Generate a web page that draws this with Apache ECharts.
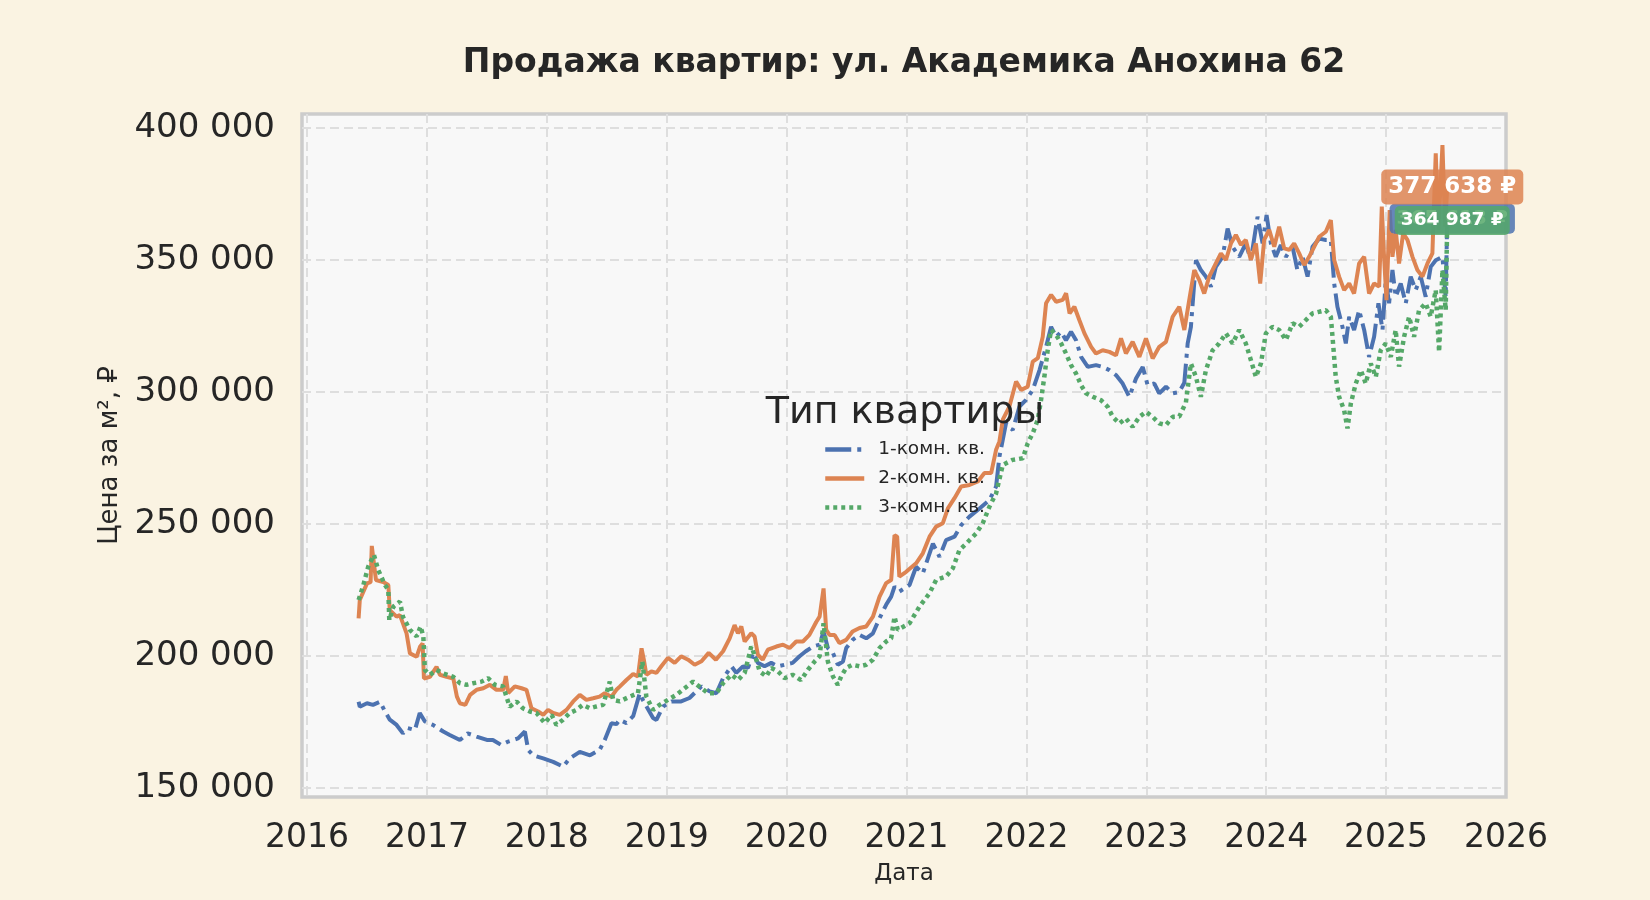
<!DOCTYPE html>
<html>
<head>
<meta charset="utf-8">
<script src="https://cdn.jsdelivr.net/npm/echarts@6/dist/echarts.min.js"></script>
<style>
html,body{margin:0;padding:0;background:#FAF3E2;}
#chart{width:1650px;height:900px;}
</style>
</head>
<body>
<div id="chart"></div>
<script>
// ---- data (decimal year, price per m²) ----
const oneRoom = [[2016.43,182700],[2016.44,180800],[2016.50,182100],[2016.55,181500],[2016.61,182700],[2016.65,179000],[2016.69,175900],[2016.747,173900],[2016.80,170700],[2016.84,172700],[2016.90,172000],[2016.94,178400],[2016.983,175200],[2017.05,173900],[2017.136,171400],[2017.19,170100],[2017.275,168200],[2017.34,170700],[2017.414,169500],[2017.50,168200],[2017.55,168200],[2017.62,166300],[2017.678,167600],[2017.76,168800],[2017.817,171400],[2017.845,164400],[2017.886,162400],[2017.97,161200],[2018.053,159900],[2018.136,158100],[2018.19,161200],[2018.275,163700],[2018.36,162400],[2018.44,164400],[2018.483,168200],[2018.539,174500],[2018.58,174200],[2018.608,175800],[2018.664,174600],[2018.72,177200],[2018.775,185900],[2018.80,183400],[2018.886,176500],[2018.914,175800],[2018.97,180900],[2019.04,182800],[2019.12,182800],[2019.19,184100],[2019.29,188500],[2019.358,186600],[2019.414,185900],[2019.47,191600],[2019.54,196100],[2019.58,193600],[2019.636,196100],[2019.678,195500],[2019.72,201200],[2019.76,197400],[2019.816,196100],[2019.872,197400],[2019.928,196100],[2019.983,196700],[2020.05,197400],[2020.108,199900],[2020.16,201800],[2020.22,203600],[2020.275,204300],[2020.308,209300],[2020.344,203000],[2020.386,201200],[2020.427,196700],[2020.47,197900],[2020.497,203000],[2020.55,206100],[2020.608,208000],[2020.664,206700],[2020.72,208600],[2020.775,214300],[2020.83,219400],[2020.872,222500],[2020.90,226300],[2020.94,224400],[2021.025,226900],[2021.08,233800],[2021.136,231300],[2021.22,242600],[2021.275,237600],[2021.33,243900],[2021.40,245200],[2021.456,249600],[2021.525,252800],[2021.609,255900],[2021.692,259100],[2021.747,264200],[2021.775,275500],[2021.83,288200],[2021.886,285600],[2021.942,294500],[2021.997,297000],[2022.053,300800],[2022.11,308400],[2022.164,317100],[2022.206,324700],[2022.248,320900],[2022.29,322800],[2022.33,319600],[2022.372,322800],[2022.414,319600],[2022.456,313300],[2022.512,309500],[2022.58,310200],[2022.636,309500],[2022.692,308300],[2022.747,306400],[2022.803,303200],[2022.858,298200],[2022.914,305100],[2022.97,309500],[2023.011,302600],[2023.067,303200],[2023.108,299500],[2023.164,302000],[2023.22,299500],[2023.275,300000],[2023.317,303500],[2023.345,318400],[2023.372,324700],[2023.414,349900],[2023.455,346200],[2023.497,343700],[2023.539,339900],[2023.58,347400],[2023.636,351200],[2023.678,361900],[2023.72,355000],[2023.775,351200],[2023.83,356300],[2023.872,350000],[2023.928,366400],[2023.97,356300],[2024.003,367000],[2024.039,356300],[2024.08,351200],[2024.122,355700],[2024.164,351200],[2024.22,355000],[2024.26,346200],[2024.303,351200],[2024.345,343700],[2024.386,355000],[2024.442,358100],[2024.497,357600],[2024.539,357600],[2024.567,341100],[2024.594,332300],[2024.636,324700],[2024.664,318400],[2024.692,328500],[2024.733,323500],[2024.775,331000],[2024.817,323500],[2024.858,313300],[2024.90,320900],[2024.936,333600],[2024.97,323500],[2024.997,342400],[2025.025,333600],[2025.053,346200],[2025.08,336100],[2025.122,341100],[2025.164,333600],[2025.205,343700],[2025.247,338600],[2025.289,343700],[2025.33,336100],[2025.372,347400],[2025.414,349900],[2025.47,351200],[2025.497,336100],[2025.51,365613]];

const twoRoom = [[2016.43,214300],[2016.44,221200],[2016.50,227500],[2016.53,228000],[2016.54,241700],[2016.575,228800],[2016.636,228000],[2016.678,226900],[2016.69,217400],[2016.747,214900],[2016.775,215500],[2016.83,208600],[2016.858,201000],[2016.914,199700],[2016.942,203500],[2016.964,204800],[2016.975,191500],[2017.025,192100],[2017.08,195900],[2017.108,192900],[2017.164,192100],[2017.22,191500],[2017.25,184600],[2017.275,182100],[2017.32,181500],[2017.36,185300],[2017.414,187200],[2017.47,187800],[2017.525,189100],[2017.58,187200],[2017.636,187200],[2017.658,192400],[2017.678,186000],[2017.733,188500],[2017.789,187800],[2017.83,187200],[2017.872,180200],[2017.928,179000],[2017.97,177700],[2018.01,179600],[2018.053,178400],[2018.108,177700],[2018.164,179600],[2018.22,182800],[2018.275,185300],[2018.33,183400],[2018.386,184000],[2018.44,184600],[2018.483,185900],[2018.539,184600],[2018.58,187200],[2018.608,188400],[2018.664,190900],[2018.72,193200],[2018.76,192200],[2018.79,202900],[2018.81,198400],[2018.83,192900],[2018.872,194200],[2018.914,193600],[2018.955,196100],[2019.01,199300],[2019.066,197400],[2019.12,199900],[2019.178,198600],[2019.233,196700],[2019.29,198000],[2019.35,201200],[2019.41,198600],[2019.47,201800],[2019.525,206700],[2019.566,211700],[2019.594,208600],[2019.622,211200],[2019.65,205500],[2019.705,208600],[2019.733,207400],[2019.76,200500],[2019.80,198600],[2019.844,202400],[2019.914,203600],[2019.97,204300],[2020.025,203000],[2020.08,205500],[2020.136,205500],[2020.19,208000],[2020.247,212900],[2020.275,214900],[2020.308,225600],[2020.33,209900],[2020.358,208000],[2020.40,208000],[2020.44,204900],[2020.497,206100],[2020.55,209300],[2020.608,210600],[2020.664,211200],[2020.72,214900],[2020.775,222500],[2020.83,227600],[2020.872,228800],[2020.90,245800],[2020.922,245200],[2020.94,230100],[2020.997,231900],[2021.08,235100],[2021.136,238900],[2021.192,245200],[2021.247,249000],[2021.303,250300],[2021.345,255900],[2021.40,259800],[2021.456,264200],[2021.525,264800],[2021.595,266100],[2021.65,269300],[2021.706,269300],[2021.747,278100],[2021.775,281300],[2021.803,289500],[2021.858,294500],[2021.914,304000],[2021.956,300800],[2022.011,302000],[2022.053,311500],[2022.095,312800],[2022.136,320900],[2022.164,333600],[2022.206,336800],[2022.248,334200],[2022.303,334900],[2022.331,337400],[2022.36,329800],[2022.40,332300],[2022.442,327200],[2022.484,322200],[2022.54,317100],[2022.58,314600],[2022.636,315800],[2022.692,315200],[2022.747,313900],[2022.789,320300],[2022.83,314600],[2022.886,319000],[2022.942,313300],[2022.997,320300],[2023.053,312700],[2023.108,317100],[2023.164,319000],[2023.22,328500],[2023.275,332300],[2023.317,323500],[2023.358,334800],[2023.40,346200],[2023.442,342400],[2023.483,337300],[2023.525,343700],[2023.58,348700],[2023.622,352500],[2023.664,350000],[2023.706,356300],[2023.747,359500],[2023.789,355700],[2023.83,357600],[2023.872,350000],[2023.914,356300],[2023.95,341100],[2023.983,357600],[2024.025,361400],[2024.067,355000],[2024.108,362600],[2024.15,354400],[2024.192,353800],[2024.233,356300],[2024.275,352500],[2024.317,348100],[2024.358,351200],[2024.40,355000],[2024.442,358800],[2024.497,360700],[2024.539,365100],[2024.567,350000],[2024.608,343700],[2024.65,338600],[2024.692,341100],[2024.733,337300],[2024.775,348700],[2024.817,351200],[2024.858,337300],[2024.90,341100],[2024.942,339900],[2024.964,370200],[2024.983,351200],[2025.003,334800],[2025.03,368900],[2025.053,351200],[2025.08,361400],[2025.108,348700],[2025.142,360100],[2025.178,357600],[2025.22,351200],[2025.261,346200],[2025.303,343700],[2025.345,348700],[2025.386,352500],[2025.414,390400],[2025.436,361400],[2025.47,393500],[2025.492,362600],[2025.51,377638]];

const threeRoom = [[2016.43,221200],[2016.47,226900],[2016.51,233800],[2016.558,238300],[2016.594,232600],[2016.65,226900],[2016.678,225000],[2016.686,213600],[2016.72,218700],[2016.775,220600],[2016.80,214900],[2016.858,209900],[2016.914,207400],[2016.947,211200],[2016.97,207400],[2016.983,194700],[2017.025,192900],[2017.08,194700],[2017.136,193400],[2017.22,192100],[2017.275,189700],[2017.33,189100],[2017.386,189700],[2017.455,190300],[2017.51,191600],[2017.567,189100],[2017.636,188500],[2017.69,180800],[2017.747,182800],[2017.80,180200],[2017.858,179000],[2017.914,178400],[2017.983,174600],[2018.04,177700],[2018.08,173900],[2018.136,175900],[2018.19,178400],[2018.247,179600],[2018.30,181500],[2018.36,180200],[2018.414,180900],[2018.47,181500],[2018.525,190300],[2018.553,183400],[2018.608,182800],[2018.69,184600],[2018.76,185900],[2018.797,197900],[2018.83,184600],[2018.886,179600],[2018.94,181500],[2019.01,183400],[2019.08,185300],[2019.15,187800],[2019.22,190300],[2019.29,187800],[2019.344,185900],[2019.414,185900],[2019.47,189700],[2019.54,192900],[2019.594,190900],[2019.65,193600],[2019.705,203600],[2019.747,198600],[2019.775,194200],[2019.83,192300],[2019.872,195500],[2019.928,194200],[2019.983,191600],[2020.05,192900],[2020.12,190900],[2020.178,194800],[2020.233,197900],[2020.275,199900],[2020.308,212400],[2020.344,197900],[2020.386,192300],[2020.427,189100],[2020.455,192300],[2020.497,195500],[2020.55,196700],[2020.608,196100],[2020.664,196700],[2020.72,198600],[2020.775,203000],[2020.83,205500],[2020.872,206700],[2020.90,214900],[2020.927,209900],[2021.025,212400],[2021.108,218700],[2021.192,223800],[2021.247,228800],[2021.33,230100],[2021.386,233200],[2021.442,240200],[2021.498,242600],[2021.58,246400],[2021.636,250300],[2021.692,256600],[2021.747,261600],[2021.803,272400],[2021.886,274300],[2021.97,274900],[2022.011,280600],[2022.053,284400],[2022.095,289500],[2022.122,297000],[2022.15,305900],[2022.178,316000],[2022.206,323500],[2022.248,321600],[2022.29,318400],[2022.33,314600],[2022.372,310200],[2022.414,307000],[2022.456,302600],[2022.497,299500],[2022.553,298200],[2022.622,296900],[2022.678,294400],[2022.72,290600],[2022.775,288100],[2022.83,290000],[2022.886,286800],[2022.942,290600],[2022.997,292500],[2023.053,290600],[2023.108,288100],[2023.164,287500],[2023.22,290600],[2023.275,290700],[2023.33,296000],[2023.372,310800],[2023.414,305700],[2023.455,298200],[2023.497,308300],[2023.553,315800],[2023.608,318400],[2023.664,322200],[2023.72,318400],[2023.775,323500],[2023.83,318400],[2023.872,312100],[2023.914,305700],[2023.956,310800],[2023.997,322200],[2024.053,324700],[2024.108,323500],[2024.164,319700],[2024.22,326000],[2024.275,324700],[2024.33,327200],[2024.386,329800],[2024.442,330400],[2024.497,331000],[2024.539,328500],[2024.553,320900],[2024.58,305700],[2024.608,298200],[2024.65,293100],[2024.678,286200],[2024.706,295700],[2024.747,303200],[2024.789,308300],[2024.83,303200],[2024.872,310800],[2024.914,305700],[2024.955,315800],[2024.997,318400],[2025.039,313300],[2025.08,323500],[2025.108,309600],[2025.15,320900],[2025.192,328500],[2025.233,320900],[2025.275,331000],[2025.33,333600],[2025.372,328500],[2025.414,338600],[2025.442,315200],[2025.47,346200],[2025.497,331000],[2025.51,364987]];

const seriesNames = ['1-комн. кв.', '2-комн. кв.', '3-комн. кв.'];
const seriesColors = ['#4C72B0', '#DD8452', '#55A868'];
const labelColors = ['rgba(76,114,176,0.85)', 'rgba(221,132,82,0.85)', 'rgba(85,168,104,0.85)'];
const titleText = 'Продажа квартир: ул. Академика Анохина 62';
const legendTitle = 'Тип квартиры';
const xName = 'Дата';
const yName = 'Цена за м², ₽';

const FONT = 'DejaVu Sans';
const TXT = '#262626';
const fmt = v => Math.round(v).toString().replace(/\B(?=(\d{3})+(?!\d))/g, ' ');

function endMark(data, idx, fontSize, pad, z) {
  const last = data[data.length - 1];
  return {
    silent: true,
    z: z,
    symbol: 'circle',
    symbolSize: 1,
    itemStyle: {color: 'rgba(0,0,0,0)'},
    label: {
      show: true,
      position: 'inside',
      offset: [5, 0],
      formatter: () => fmt(last[1]) + ' ₽',
      color: '#ffffff',
      fontFamily: FONT,
      fontWeight: 'bold',
      fontSize: fontSize,
      backgroundColor: labelColors[idx],
      borderRadius: 5,
      padding: pad
    },
    data: [{coord: [last[0], last[1]], value: last[1]}]
  };
}

const chart = echarts.init(document.getElementById('chart'), null, {renderer: 'canvas'});
chart.setOption({
  backgroundColor: '#FAF3E2',
  animation: false,
  textStyle: {fontFamily: FONT},
  title: [
    {text: titleText, left: 904, top: 47, textAlign: 'center', padding: 0,
     textStyle: {fontFamily: FONT, fontSize: 33, fontWeight: 'bold', color: TXT}},
    {text: legendTitle, left: 905, top: 394, textAlign: 'center', padding: 0,
     textStyle: {fontFamily: FONT, fontSize: 38, fontWeight: 'normal', color: TXT}}
  ],
  legend: {
    orient: 'vertical', left: 823, top: 440, padding: 0,
    itemWidth: 39, itemHeight: 18, itemGap: 10,
    data: seriesNames,
    itemStyle: {opacity: 0},
    lineStyle: {width: 4.5},
    textStyle: {fontFamily: FONT, fontSize: 18.5, color: TXT, padding: [0, 0, 0, 9]}
  },
  grid: {
    left: 302, right: 144, top: 114, bottom: 103,
    show: true, backgroundColor: '#F8F8F8', borderColor: '#CCCCCC', borderWidth: 3.5,
    outerBoundsMode: 'none'
  },
  xAxis: {
    type: 'value', min: 2015.958, max: 2026.0,
    minInterval: 1, maxInterval: 1, splitNumber: 10,
    name: xName, nameLocation: 'middle', nameGap: 66,
    nameTextStyle: {fontFamily: FONT, fontSize: 23, color: TXT},
    axisLine: {show: false}, axisTick: {show: false},
    axisLabel: {
      fontFamily: FONT, fontSize: 33, color: TXT, margin: 25,
      showMinLabel: true, showMaxLabel: true,
      formatter: v => Math.abs(v - Math.round(v)) < 1e-6 ? String(Math.round(v)) : ''
    },
    splitLine: {show: true, showMinLine: false, showMaxLine: false,
      lineStyle: {color: '#DEDEDE', width: 2, type: [9, 5]}}
  },
  yAxis: {
    type: 'value', min: 146600, max: 405300,
    minInterval: 50000, maxInterval: 50000, splitNumber: 5,
    name: yName, nameLocation: 'middle', nameGap: 174, nameRotate: 90,
    nameTextStyle: {fontFamily: FONT, fontSize: 26, color: TXT},
    axisLine: {show: false}, axisTick: {show: false},
    axisLabel: {
      fontFamily: FONT, fontSize: 34, color: TXT, margin: 27, padding: [9, 0, 0, 0],
      formatter: v => (Math.abs(v % 50000) < 1e-6) ? fmt(v) : ''
    },
    splitLine: {show: true, showMinLine: false, showMaxLine: false,
      lineStyle: {color: '#DEDEDE', width: 2, type: [9, 5]}}
  },
  series: [
    {
      name: seriesNames[0], type: 'line', data: oneRoom, symbol: 'none', z: 2,
      lineStyle: {color: seriesColors[0], width: 4, type: [26, 6, 4, 6]},
      itemStyle: {color: seriesColors[0]}, emphasis: {disabled: true},
      markPoint: endMark(oneRoom, 0, 20, [5, 7], 10)
    },
    {
      name: seriesNames[1], type: 'line', data: twoRoom, symbol: 'none', z: 3,
      lineStyle: {color: seriesColors[1], width: 4, type: 'solid'},
      itemStyle: {color: seriesColors[1]}, emphasis: {disabled: true},
      markPoint: endMark(twoRoom, 1, 23, [6, 7], 12)
    },
    {
      name: seriesNames[2], type: 'line', data: threeRoom, symbol: 'none', z: 4,
      lineStyle: {color: seriesColors[2], width: 4.5, type: [4, 4], cap: 'butt'},
      itemStyle: {color: seriesColors[2]}, emphasis: {disabled: true},
      markPoint: endMark(threeRoom, 2, 18.5, [5, 6], 11)
    }
  ]
});
</script>
</body>
</html>
